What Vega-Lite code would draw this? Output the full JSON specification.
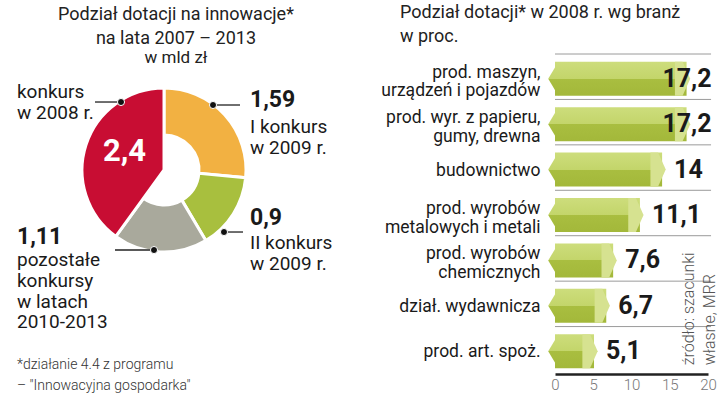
{
  "$schema": "https://vega.github.io/schema/vega-lite/v6.json",
  "background": "white",
  "padding": {"left": 0, "top": 3, "right": 0, "bottom": 0},
  "spacing": 47,
  "config": {
    "font": "Roboto",
    "view": {"stroke": null},
    "locale": {"number": {"decimal": ",", "thousands": " ", "grouping": [3], "currency": ["", " zł"]}}
  },
  "datasets": {
    "donut": [
      {"name": "konkurs 2008", "value": 2.4, "rank": 4, "desc": ["konkurs", "w 2008 r."]},
      {"name": "I konkurs 2009", "value": 1.59, "rank": 1, "desc": ["I konkurs", "w 2009 r."]},
      {"name": "II konkurs 2009", "value": 0.9, "rank": 2, "desc": ["II konkurs", "w 2009 r."]},
      {"name": "pozostałe", "value": 1.11, "rank": 3, "desc": ["pozostałe", "konkursy", "w latach", "2010-2013"]}
    ],
    "branches": [
      {"branch": "prod. maszyn,|urządzeń i pojazdów", "pct": 17.2},
      {"branch": "prod. wyr. z papieru,|gumy, drewna", "pct": 17.2},
      {"branch": "budownictwo", "pct": 14},
      {"branch": "prod. wyrobów|metalowych i metali", "pct": 11.1},
      {"branch": "prod. wyrobów|chemicznych", "pct": 7.6},
      {"branch": "dział. wydawnicza", "pct": 6.7},
      {"branch": "prod. art. spoż.", "pct": 5.1}
    ]
  },
  "hconcat": [
    {
      "width": 330,
      "height": 318,
      "data": {"name": "donut"},
      "title": {"text": ["Podział dotacji na innowacje*", "na lata 2007 – 2013"], "subtitle": "w mld zł", "anchor": "middle", "frame": "group", "fontSize": 18, "fontWeight": "normal", "lineHeight": 24, "subtitleFontSize": 17, "subtitlePadding": 2, "subtitleColor": "#222", "color": "#222", "offset": -10, "dx": 11},
      "layer": [
        {
          "mark": {"type": "arc", "outerRadius": 82, "innerRadius": 35, "stroke": "white", "strokeWidth": 3},
          "encoding": {
            "theta": {"field": "value", "type": "quantitative", "stack": true},
            "order": {"field": "rank", "type": "quantitative"},
            "color": {"field": "name", "type": "nominal", "legend": null, "scale": {"domain": ["konkurs 2008", "I konkurs 2009", "II konkurs 2009", "pozostałe"], "range": ["#C80D33", "#F2B142", "#A8BF3E", "#A9A99C"]}},
            "x": {"datum": 49.7, "type": "quantitative", "scale": {"domain": [0, 100]}, "axis": null},
            "y": {"datum": 35.85, "type": "quantitative", "scale": {"domain": [0, 100], "reverse": true}, "axis": null}
          }
        },
        {
          "mark": {"type": "arc", "outerRadius": 82, "innerRadius": 0, "stroke": "white", "strokeWidth": 3},
          "encoding": {
            "theta": {"field": "value", "type": "quantitative", "stack": true},
            "order": {"field": "rank", "type": "quantitative"},
            "color": {"field": "name", "type": "nominal", "legend": null},
            "opacity": {"condition": {"test": "datum.name == 'konkurs 2008'", "value": 1}, "value": 0},
            "x": {"datum": 49.7, "type": "quantitative", "scale": {"domain": [0, 100]}, "axis": null},
            "y": {"datum": 35.85, "type": "quantitative", "scale": {"domain": [0, 100], "reverse": true}, "axis": null}
          }
        },
        {
          "transform": [{"filter": "datum.name == 'konkurs 2008'"}],
          "mark": {"type": "text", "align": "center", "baseline": "middle", "fontSize": 31, "fontWeight": "bold", "color": "white"},
          "encoding": {
            "text": {"field": "value", "type": "quantitative", "format": ".2~f"},
            "x": {"datum": 37.73, "type": "quantitative", "scale": {"domain": [0, 100]}, "axis": null},
            "y": {"datum": 30.19, "type": "quantitative", "scale": {"domain": [0, 100], "reverse": true}, "axis": null}
          }
        },
        {
          "transform": [{"filter": "datum.name == 'konkurs 2008'"}],
          "mark": {"type": "text", "align": "left", "baseline": "alphabetic", "fontSize": 19, "lineHeight": 21, "color": "#1a1a1a"},
          "encoding": {
            "text": {"field": "desc"},
            "x": {"datum": 5.15, "type": "quantitative", "scale": {"domain": [0, 100]}, "axis": null},
            "y": {"datum": 13.21, "type": "quantitative", "scale": {"domain": [0, 100], "reverse": true}, "axis": null}
          }
        },
        {
          "transform": [{"filter": "datum.name == 'I konkurs 2009'"}],
          "mark": {"type": "text", "align": "left", "baseline": "alphabetic", "fontSize": 23, "fontWeight": "bold", "color": "#1a1a1a"},
          "encoding": {
            "text": {"field": "value", "type": "quantitative", "format": ".2~f"},
            "x": {"datum": 75.76, "type": "quantitative", "scale": {"domain": [0, 100]}, "axis": null},
            "y": {"datum": 16.04, "type": "quantitative", "scale": {"domain": [0, 100], "reverse": true}, "axis": null}
          }
        },
        {
          "transform": [{"filter": "datum.name == 'I konkurs 2009'"}],
          "mark": {"type": "text", "align": "left", "baseline": "alphabetic", "fontSize": 19, "lineHeight": 21, "color": "#1a1a1a"},
          "encoding": {
            "text": {"field": "desc"},
            "x": {"datum": 75.76, "type": "quantitative", "scale": {"domain": [0, 100]}, "axis": null},
            "y": {"datum": 24.21, "type": "quantitative", "scale": {"domain": [0, 100], "reverse": true}, "axis": null}
          }
        },
        {
          "transform": [{"filter": "datum.name == 'II konkurs 2009'"}],
          "mark": {"type": "text", "align": "left", "baseline": "alphabetic", "fontSize": 23, "fontWeight": "bold", "color": "#1a1a1a"},
          "encoding": {
            "text": {"field": "value", "type": "quantitative", "format": ".2~f"},
            "x": {"datum": 75.76, "type": "quantitative", "scale": {"domain": [0, 100]}, "axis": null},
            "y": {"datum": 53.14, "type": "quantitative", "scale": {"domain": [0, 100], "reverse": true}, "axis": null}
          }
        },
        {
          "transform": [{"filter": "datum.name == 'II konkurs 2009'"}],
          "mark": {"type": "text", "align": "left", "baseline": "alphabetic", "fontSize": 19, "lineHeight": 21, "color": "#1a1a1a"},
          "encoding": {
            "text": {"field": "desc"},
            "x": {"datum": 75.76, "type": "quantitative", "scale": {"domain": [0, 100]}, "axis": null},
            "y": {"datum": 60.69, "type": "quantitative", "scale": {"domain": [0, 100], "reverse": true}, "axis": null}
          }
        },
        {
          "transform": [{"filter": "datum.name == 'pozostałe'"}],
          "mark": {"type": "text", "align": "left", "baseline": "alphabetic", "fontSize": 23, "fontWeight": "bold", "color": "#1a1a1a"},
          "encoding": {
            "text": {"field": "value", "type": "quantitative", "format": ".2~f"},
            "x": {"datum": 5.15, "type": "quantitative", "scale": {"domain": [0, 100]}, "axis": null},
            "y": {"datum": 59.12, "type": "quantitative", "scale": {"domain": [0, 100], "reverse": true}, "axis": null}
          }
        },
        {
          "transform": [{"filter": "datum.name == 'pozostałe'"}],
          "mark": {"type": "text", "align": "left", "baseline": "alphabetic", "fontSize": 19, "lineHeight": 20.8, "color": "#1a1a1a"},
          "encoding": {
            "text": {"field": "desc"},
            "x": {"datum": 5.15, "type": "quantitative", "scale": {"domain": [0, 100]}, "axis": null},
            "y": {"datum": 66.04, "type": "quantitative", "scale": {"domain": [0, 100], "reverse": true}, "axis": null}
          }
        },
        {
          "transform": [{"filter": "datum.name == 'pozostałe'"}],
          "mark": {"type": "text", "align": "left", "baseline": "alphabetic", "fontSize": 14, "fontWeight": 300, "lineHeight": 21, "color": "#333"},
          "encoding": {
            "text": {"value": ["*działanie 4.4 z programu", "– \"Innowacyjna gospodarka\""]},
            "x": {"datum": 5.15, "type": "quantitative", "scale": {"domain": [0, 100]}, "axis": null},
            "y": {"datum": 98.43, "type": "quantitative", "scale": {"domain": [0, 100], "reverse": true}, "axis": null}
          }
        },
        {
          "transform": [{"filter": "datum.name == 'konkurs 2008'"}],
          "mark": {"type": "rule", "color": "#222", "strokeWidth": 1.3},
          "encoding": {
            "x": {"datum": 28.79, "type": "quantitative", "scale": {"domain": [0, 100]}, "axis": null},
            "x2": {"datum": 36.67},
            "y": {"datum": 14.47, "type": "quantitative", "scale": {"domain": [0, 100], "reverse": true}, "axis": null}
          }
        },
        {
          "transform": [{"filter": "datum.name == 'I konkurs 2009'"}],
          "mark": {"type": "rule", "color": "#222", "strokeWidth": 1.3},
          "encoding": {
            "x": {"datum": 64.55, "type": "quantitative", "scale": {"domain": [0, 100]}, "axis": null},
            "x2": {"datum": 72.73},
            "y": {"datum": 15.41, "type": "quantitative", "scale": {"domain": [0, 100], "reverse": true}, "axis": null}
          }
        },
        {
          "transform": [{"filter": "datum.name == 'II konkurs 2009'"}],
          "mark": {"type": "rule", "color": "#222", "strokeWidth": 1.3},
          "encoding": {
            "x": {"datum": 67.88, "type": "quantitative", "scale": {"domain": [0, 100]}, "axis": null},
            "x2": {"datum": 73.64},
            "y": {"datum": 55.35, "type": "quantitative", "scale": {"domain": [0, 100], "reverse": true}, "axis": null}
          }
        },
        {
          "transform": [{"filter": "datum.name == 'pozostałe'"}],
          "mark": {"type": "rule", "color": "#222", "strokeWidth": 1.3},
          "encoding": {
            "x": {"datum": 34.85, "type": "quantitative", "scale": {"domain": [0, 100]}, "axis": null},
            "x2": {"datum": 46.67},
            "y": {"datum": 61.01, "type": "quantitative", "scale": {"domain": [0, 100], "reverse": true}, "axis": null}
          }
        },
        {
          "transform": [{"filter": "datum.name == 'konkurs 2008'"}],
          "mark": {"type": "point", "filled": true, "opacity": 1, "size": 50, "color": "#111", "stroke": "white", "strokeWidth": 1},
          "encoding": {
            "x": {"datum": 36.67, "type": "quantitative", "scale": {"domain": [0, 100]}, "axis": null},
            "y": {"datum": 14.47, "type": "quantitative", "scale": {"domain": [0, 100], "reverse": true}, "axis": null}
          }
        },
        {
          "transform": [{"filter": "datum.name == 'I konkurs 2009'"}],
          "mark": {"type": "point", "filled": true, "opacity": 1, "size": 50, "color": "#111", "stroke": "white", "strokeWidth": 1},
          "encoding": {
            "x": {"datum": 64.55, "type": "quantitative", "scale": {"domain": [0, 100]}, "axis": null},
            "y": {"datum": 15.41, "type": "quantitative", "scale": {"domain": [0, 100], "reverse": true}, "axis": null}
          }
        },
        {
          "transform": [{"filter": "datum.name == 'II konkurs 2009'"}],
          "mark": {"type": "point", "filled": true, "opacity": 1, "size": 50, "color": "#111", "stroke": "white", "strokeWidth": 1},
          "encoding": {
            "x": {"datum": 67.88, "type": "quantitative", "scale": {"domain": [0, 100]}, "axis": null},
            "y": {"datum": 55.35, "type": "quantitative", "scale": {"domain": [0, 100], "reverse": true}, "axis": null}
          }
        },
        {
          "transform": [{"filter": "datum.name == 'pozostałe'"}],
          "mark": {"type": "point", "filled": true, "opacity": 1, "size": 50, "color": "#111", "stroke": "white", "strokeWidth": 1},
          "encoding": {
            "x": {"datum": 46.67, "type": "quantitative", "scale": {"domain": [0, 100]}, "axis": null},
            "y": {"datum": 61.01, "type": "quantitative", "scale": {"domain": [0, 100], "reverse": true}, "axis": null}
          }
        }
      ]
    },
    {
      "width": 153,
      "height": 318,
      "data": {"name": "branches"},
      "title": {"text": ["Podział dotacji* w 2008 r. wg branż", "w proc."], "anchor": "start", "frame": "group", "fontSize": 18, "fontWeight": "normal", "lineHeight": 24, "color": "#222", "offset": 8, "dx": -155},
      "encoding": {
        "y": {"field": "branch", "type": "nominal", "sort": null, "scale": {"paddingInner": 0, "paddingOuter": 0},
              "axis": {"title": null, "domain": false, "ticks": false, "grid": false, "labelExpr": "split(datum.label, '|')", "labelFontSize": 17.5, "labelLineHeight": 18.5, "labelPadding": 15, "labelColor": "#1a1a1a", "labelLimit": 300,
                       "labelOffset": {"condition": {"test": "indexof(datum.value, '|') >= 0", "value": -6}, "value": 1}}}
      },
      "layer": [
        {
          "mark": {"type": "rule", "color": "#9a9a9a", "strokeWidth": 1, "yOffset": -2},
          "encoding": {
            "y": {"field": "branch", "type": "nominal", "sort": null, "bandPosition": 0},
            "x": {"datum": 0, "type": "quantitative", "scale": {"domain": [0, 20], "nice": false}, "axis": {"values": [0, 5, 10, 15, 20], "tickCount": 5, "title": null, "ticks": false, "grid": false, "domainColor": "#222", "domainWidth": 2.5, "labelColor": "#777", "labelFontSize": 15, "labelFontWeight": 300, "labelPadding": 3, "labelFlush": false, "labelOverlap": false, "format": "d"}},
            "x2": {"datum": 20.4}
          }
        },
        {
          "mark": {"type": "bar", "size": 34, "color": {"gradient": "linear", "x1": 0, "y1": 0, "x2": 0, "y2": 1, "stops": [{"offset": 0, "color": "#CDDD7C"}, {"offset": 0.5, "color": "#C3D56A"}, {"offset": 0.5, "color": "#A9BE40"}, {"offset": 1, "color": "#A3B83A"}]}},
          "encoding": {
            "x": {"field": "pct", "type": "quantitative", "scale": {"domain": [0, 20], "nice": false}, "axis": {"values": [0, 5, 10, 15, 20], "tickCount": 5, "title": null, "ticks": false, "grid": false, "domainColor": "#222", "domainWidth": 2.5, "labelColor": "#777", "labelFontSize": 15, "labelFontWeight": 300, "labelPadding": 3, "labelFlush": false, "labelOverlap": false, "format": "d"}}
          }
        },
        {
          "mark": {"type": "point", "shape": "M0.2,-1 L-0.4,0 L0.2,1 Z", "size": 1156, "filled": true, "opacity": 1, "color": {"gradient": "linear", "x1": 0, "y1": 0, "x2": 0, "y2": 1, "stops": [{"offset": 0, "color": "#CDDD7C"}, {"offset": 0.5, "color": "#C3D56A"}, {"offset": 0.5, "color": "#A9BE40"}, {"offset": 1, "color": "#A3B83A"}]}},
          "encoding": {"x": {"datum": 0, "type": "quantitative", "scale": {"domain": [0, 20], "nice": false}, "axis": {"values": [0, 5, 10, 15, 20], "tickCount": 5, "title": null, "ticks": false, "grid": false, "domainColor": "#222", "domainWidth": 2.5, "labelColor": "#777", "labelFontSize": 15, "labelFontWeight": 300, "labelPadding": 3, "labelFlush": false, "labelOverlap": false, "format": "d"}}}
        },
        {
          "mark": {"type": "point", "shape": "M-0.45,-1 L0,-1 L0.45,0 L0,1 L-0.45,1 Z", "size": 1156, "filled": true, "opacity": 1, "color": "#D6E290", "xOffset": -4},
          "encoding": {"x": {"field": "pct", "type": "quantitative", "scale": {"domain": [0, 20], "nice": false}, "axis": {"values": [0, 5, 10, 15, 20], "tickCount": 5, "title": null, "ticks": false, "grid": false, "domainColor": "#222", "domainWidth": 2.5, "labelColor": "#777", "labelFontSize": 15, "labelFontWeight": 300, "labelPadding": 3, "labelFlush": false, "labelOverlap": false, "format": "d"}}}
        },
        {
          "transform": [{"filter": "datum.pct < 16"}],
          "mark": {"type": "text", "align": "left", "baseline": "middle", "dx": 12, "fontSize": 25, "fontWeight": "bold", "color": "#1a1a1a"},
          "encoding": {
            "x": {"field": "pct", "type": "quantitative", "scale": {"domain": [0, 20], "nice": false}, "axis": {"values": [0, 5, 10, 15, 20], "tickCount": 5, "title": null, "ticks": false, "grid": false, "domainColor": "#222", "domainWidth": 2.5, "labelColor": "#777", "labelFontSize": 15, "labelFontWeight": 300, "labelPadding": 3, "labelFlush": false, "labelOverlap": false, "format": "d"}},
            "text": {"field": "pct", "type": "quantitative", "format": ".1~f"}
          }
        },
        {
          "transform": [{"filter": "datum.pct >= 16"}],
          "mark": {"type": "text", "align": "right", "baseline": "middle", "dx": 25, "fontSize": 25, "fontWeight": "bold", "color": "#1a1a1a"},
          "encoding": {
            "x": {"field": "pct", "type": "quantitative", "scale": {"domain": [0, 20], "nice": false}, "axis": {"values": [0, 5, 10, 15, 20], "tickCount": 5, "title": null, "ticks": false, "grid": false, "domainColor": "#222", "domainWidth": 2.5, "labelColor": "#777", "labelFontSize": 15, "labelFontWeight": 300, "labelPadding": 3, "labelFlush": false, "labelOverlap": false, "format": "d"}},
            "text": {"field": "pct", "type": "quantitative", "format": ".1~f"}
          }
        },
        {
          "data": {"values": [{}]},
          "mark": {"type": "text", "angle": 270, "align": "left", "baseline": "middle", "fontSize": 16, "fontWeight": 300, "lineHeight": 21, "color": "#555", "dx": -14},
          "encoding": {
            "x": {"datum": 17.5, "type": "quantitative", "scale": {"domain": [0, 20], "nice": false}, "axis": {"values": [0, 5, 10, 15, 20], "tickCount": 5, "title": null, "ticks": false, "grid": false, "domainColor": "#222", "domainWidth": 2.5, "labelColor": "#777", "labelFontSize": 15, "labelFontWeight": 300, "labelPadding": 3, "labelFlush": false, "labelOverlap": false, "format": "d"}},
            "y": {"datum": "prod. art. spoż.", "type": "nominal"},
            "text": {"value": ["źródło: szacunki", "własne, MRR"]}
          }
        }
      ]
    }
  ]
}
